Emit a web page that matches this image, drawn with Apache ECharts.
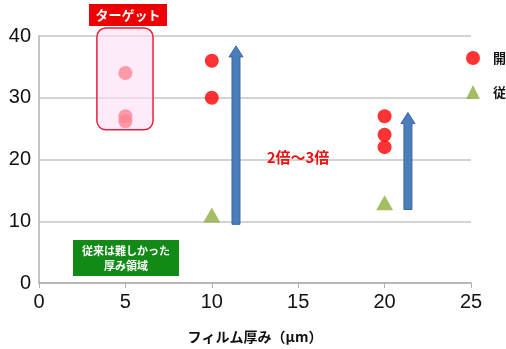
<!DOCTYPE html>
<html><head><meta charset="utf-8">
<script src="https://cdn.jsdelivr.net/npm/echarts@6/dist/echarts.min.js"></script>
<style>html,body{margin:0;padding:0;background:#fff}#c{width:506px;height:349px}</style>
</head><body><div id="c"></div>
<script>
const xTicks = [0, 5, 10, 15, 20, 25];
const yTicks = [0, 10, 20, 30, 40];
const devName = '開発品';
const devData = [[5, 34], [5, 27], [5, 26.2], [10, 36], [10, 30], [20, 27], [20, 24], [20, 22]];
const oldName = '従来品';
const oldData = [[10, 11], [20, 13]];
// arrows: [x, yFrom, yTo]
const arrows = [[11.4, 9.5, 38.4], [21.35, 11.9, 27.6]];
const targetBox = [[3.35, 41.3, 6.6, 24.8]];

const FONT = '"Noto Sans CJK JP", "Noto Sans", sans-serif';
const NUMFONT = 'Arial, "Liberation Sans", sans-serif';
const chart = echarts.init(document.getElementById('c'), null, {renderer: 'canvas'});

chart.setOption({
  animation: false,
  backgroundColor: '#fff',
  grid: {left: 39, right: 35, top: 36, bottom: 65, containLabel: false},
  xAxis: {
    type: 'value', min: 0, max: 25, interval: 5,
    axisLine: {show: true, lineStyle: {color: '#b0b0b0', width: 1.5}},
    axisTick: {show: true, length: 5, lineStyle: {color: '#b0b0b0'}},
    splitLine: {show: false},
    axisLabel: {color: '#111', fontSize: 20, fontFamily: NUMFONT, margin: 9,
      formatter: v => xTicks.includes(v) ? String(v) : ''},
    name: 'フィルム厚み（μm）', nameLocation: 'middle', nameGap: 47,
    nameTextStyle: {color: '#111', fontSize: 14, fontWeight: 'bold', fontFamily: FONT}
  },
  yAxis: {
    type: 'value', min: 0, max: 40, interval: 10,
    axisLine: {show: true, lineStyle: {color: '#b0b0b0', width: 1.5}},
    axisTick: {show: false},
    splitLine: {show: true, lineStyle: {color: '#c4c4c4', width: 1.5}},
    axisLabel: {color: '#111', fontSize: 20, fontFamily: NUMFONT, margin: 8,
      formatter: v => yTicks.includes(v) ? String(v) : ''}
  },
  legend: {
    orient: 'vertical', left: 466, top: 51, padding: 0, itemGap: 20, itemWidth: 14, itemHeight: 14,
    textStyle: {color: '#111', fontSize: 13, fontWeight: 'bold', fontFamily: FONT, padding: [0, 0, 0, 8]},
    data: [{name: devName, icon: 'circle'}, {name: oldName, icon: 'triangle'}]
  },
  series: [
    {
      name: devName, type: 'scatter', data: devData, symbol: 'circle', symbolSize: 14,
      itemStyle: {color: '#ff0000'}, z: 3
    },
    {
      name: oldName, type: 'scatter', data: oldData, symbol: 'triangle', symbolSize: [17, 15],
      itemStyle: {color: '#8fad3c'}, z: 3
    },
    {
      type: 'custom', name: 'target', data: targetBox, z: 5, silent: true,
      renderItem: (params, api) => {
        const p1 = api.coord([api.value(0), api.value(1)]);
        const p2 = api.coord([api.value(2), api.value(3)]);
        return {type: 'rect', shape: {x: p1[0], y: p1[1], width: p2[0] - p1[0], height: p2[1] - p1[1], r: 9},
          style: {fill: 'rgba(252,222,246,0.6)', stroke: '#e8203a', lineWidth: 1.5}};
      }
    },
    {
      type: 'custom', name: 'arrows', data: arrows, z: 4, silent: true,
      renderItem: (params, api) => {
        const b = api.coord([api.value(0), api.value(1)]);
        const t = api.coord([api.value(0), api.value(2)]);
        const x = b[0], sw = 4, hw = 7, hh = 11;
        return {type: 'polygon', shape: {points: [
          [x - sw, b[1]], [x - sw, t[1] + hh], [x - hw, t[1] + hh], [x, t[1]],
          [x + hw, t[1] + hh], [x + sw, t[1] + hh], [x + sw, b[1]]]},
          style: {fill: '#4a7ebb', stroke: '#3a67a0', lineWidth: 1}};
      }
    }
  ],
  graphic: [
    {type: 'rect', x: 89, y: 4, shape: {width: 78, height: 22}, style: {fill: '#ee0000'}, z: 10},
    {type: 'text', x: 128, y: 15, z: 11, style: {text: 'ターゲット', fill: '#fff', font: 'bold 13px ' + FONT, textAlign: 'center', textVerticalAlign: 'middle'}},
    {type: 'rect', x: 73, y: 240, shape: {width: 106, height: 36}, style: {fill: '#128a16'}, z: 10},
    {type: 'text', x: 126, y: 258, z: 11, style: {text: '従来は難しかった\n厚み領域', fill: '#fff', font: 'bold 11px ' + FONT, lineHeight: 15, textAlign: 'center', textVerticalAlign: 'middle'}},
    {type: 'text', x: 298, y: 157, z: 11, style: {text: '2倍～3倍', fill: '#ee1111', font: 'bold 15px ' + FONT, textAlign: 'center', textVerticalAlign: 'middle'}}
  ]
});
</script></body></html>
